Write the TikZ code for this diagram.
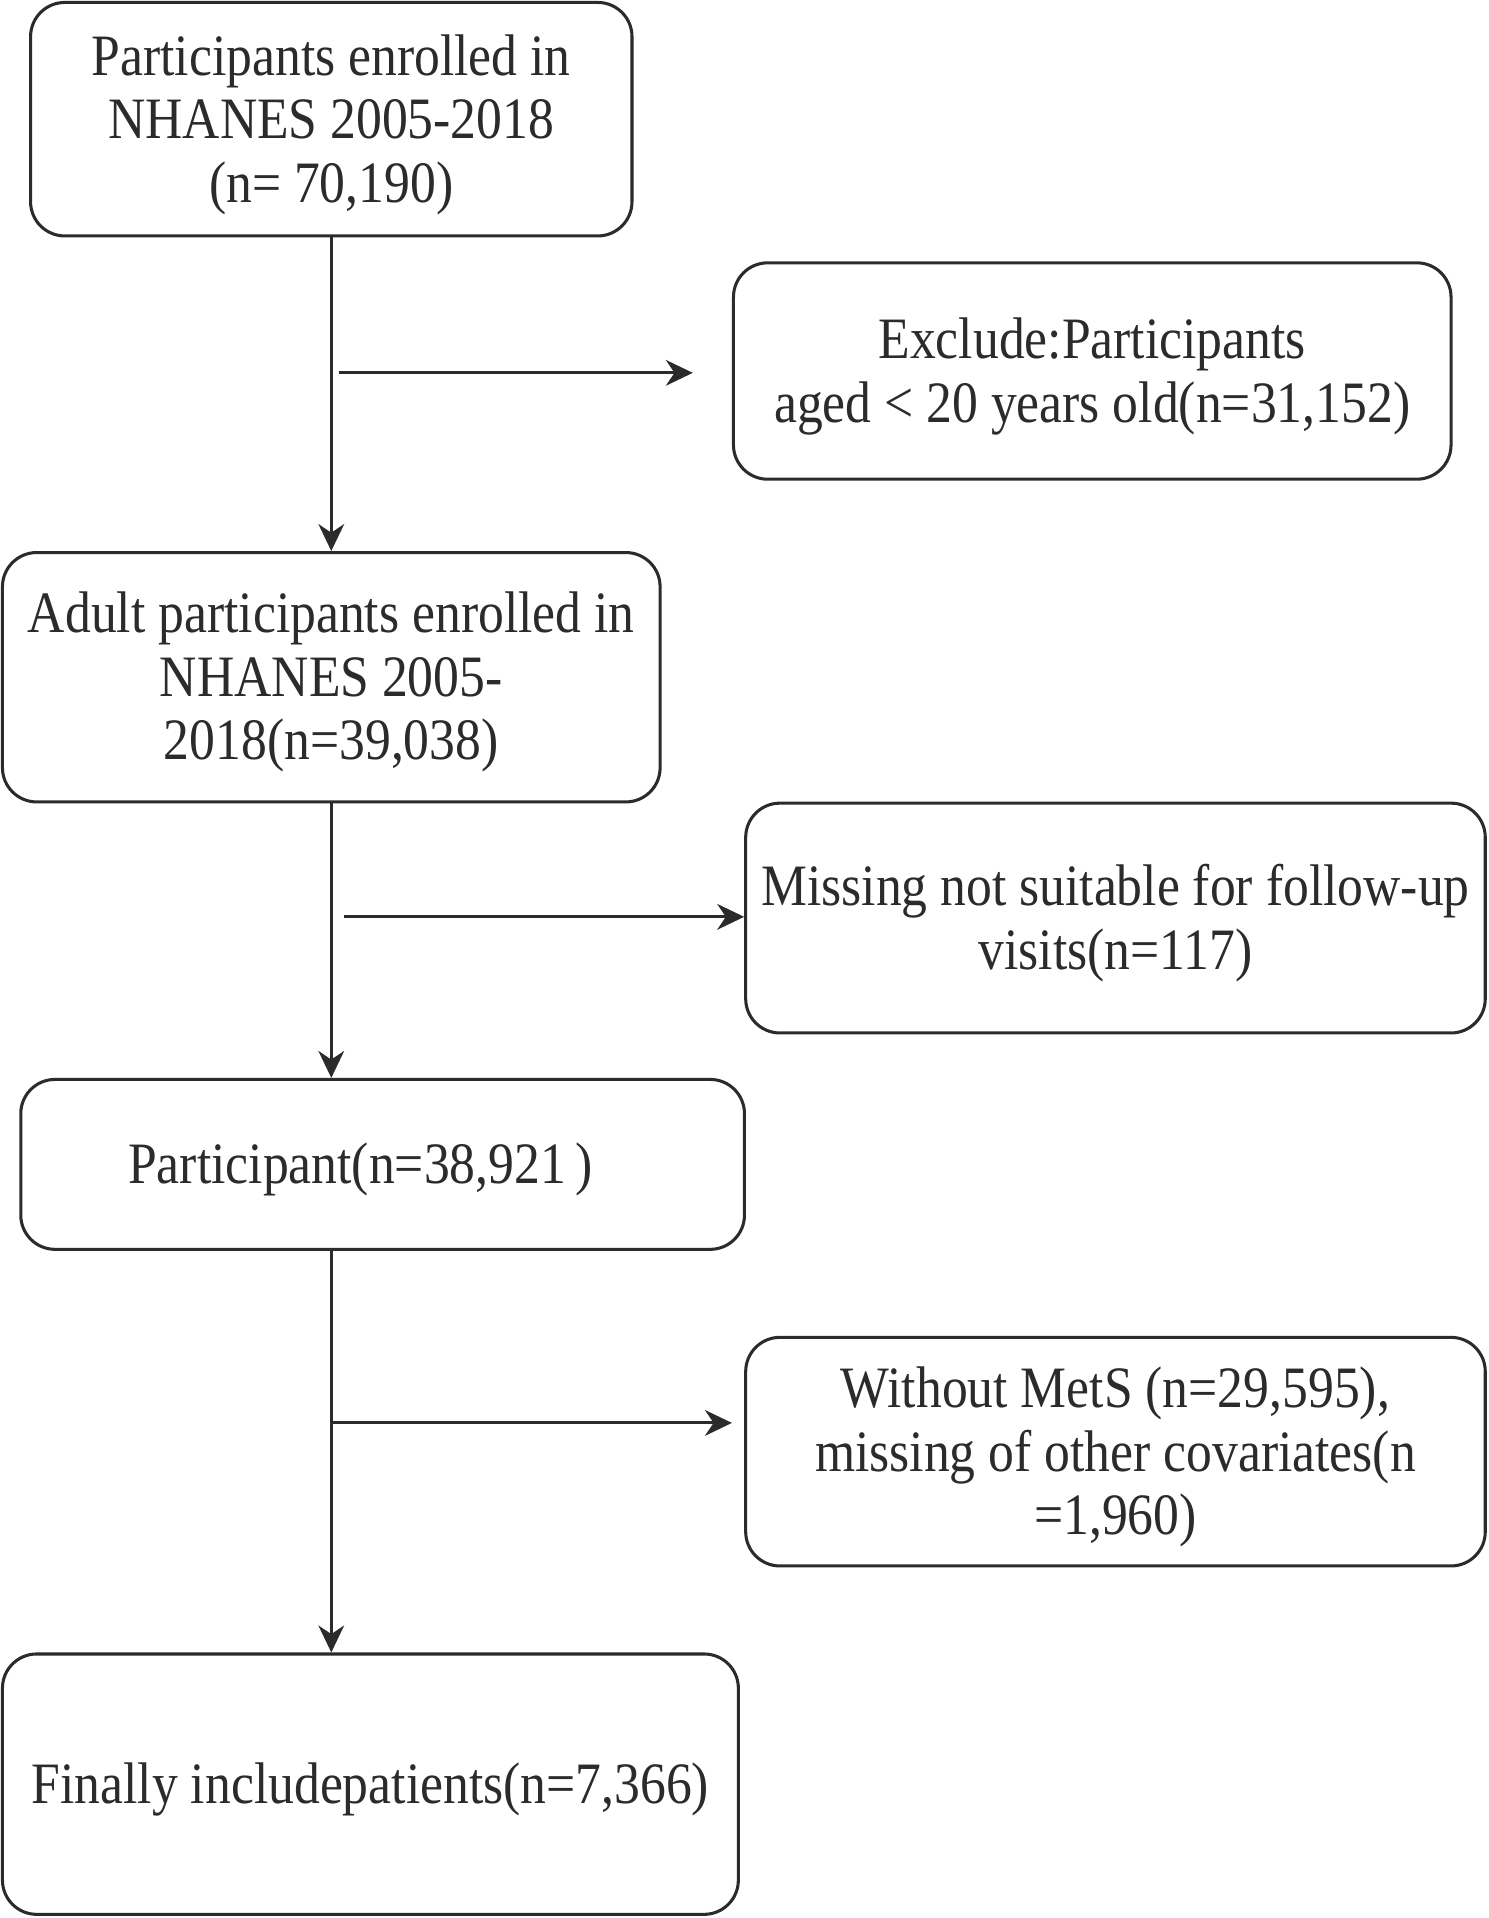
\documentclass[tikz,border=0pt]{standalone}
\usepackage{fontspec}
\setmainfont{Liberation Serif}[FakeStretch=0.88]
\usetikzlibrary{arrows.meta}
\definecolor{ink}{HTML}{2B2B2B}
\begin{document}
\begin{tikzpicture}[x=1pt,y=-1pt,
  box/.style={draw=ink, line width=2.5pt, rounded corners=28pt, inner sep=0pt},
  txt/.style={text=ink, font=\fontsize{48}{52}\selectfont, align=center, inner sep=0pt},
  arr/.style={draw=ink, line width=2.5pt, -{Stealth[length=22pt,width=21pt,inset=7pt]}}]
\useasboundingbox (0,0) rectangle (1218,1569);
\node[box, minimum width=492pt, minimum height=191pt] (b1) at (271,97.5) {};
\node[txt] (t1) at (271,102) {Participants enrolled in\\NHANES 2005-2018\\(n= 70,190)};
\node[box, minimum width=587pt, minimum height=177pt] (b2) at (893.5,303.5) {};
\node[txt] (t2) at (893.5,308) {Exclude:Participants\\aged < 20 years old(n=31,152)};
\node[box, minimum width=538pt, minimum height=204pt] (b3) at (271,554) {};
\node[txt] (t3) at (271,558) {Adult participants enrolled in\\NHANES 2005-\\2018(n=39,038)};
\node[box, minimum width=605pt, minimum height=188pt] (b5) at (912.5,751) {};
\node[txt] (t5) at (912.5,755) {Missing not suitable for follow-up\\visits(n=117)};
\node[box, minimum width=592pt, minimum height=139pt] (b4) at (313,952.5) {};
\node[txt] (t4) at (295,957) {Participant(n=38,921\,)};
\node[box, minimum width=605pt, minimum height=187pt] (b6) at (912.5,1187.5) {};
\node[txt] (t6) at (912.5,1192) {Without MetS (n=29,595),\\missing of other covariates(n\\=1,960)};
\node[box, minimum width=602pt, minimum height=213pt] (b7) at (303,1459.5) {};
\node[txt] (t7) at (303,1464) {Finally includepatients(n=7,366)};
\coordinate (h1) at (277,305);
\coordinate (h2) at (281,750);
\coordinate (h3) at (271,1164);
\draw[arr] (b1.south) -- (b3.north);
\draw[arr, shorten >=32pt] (h1) -- (h1 -| b2.west);
\draw[arr] (b3.south) -- (b3.south |- b4.north);
\draw[arr] (h2) -- (h2 -| b5.west);
\draw[arr] (b3.south |- b4.south) -- (b3.south |- b7.north);
\draw[arr, shorten >=10pt] (h3) -- (h3 -| b6.west);
\end{tikzpicture}
\end{document}
